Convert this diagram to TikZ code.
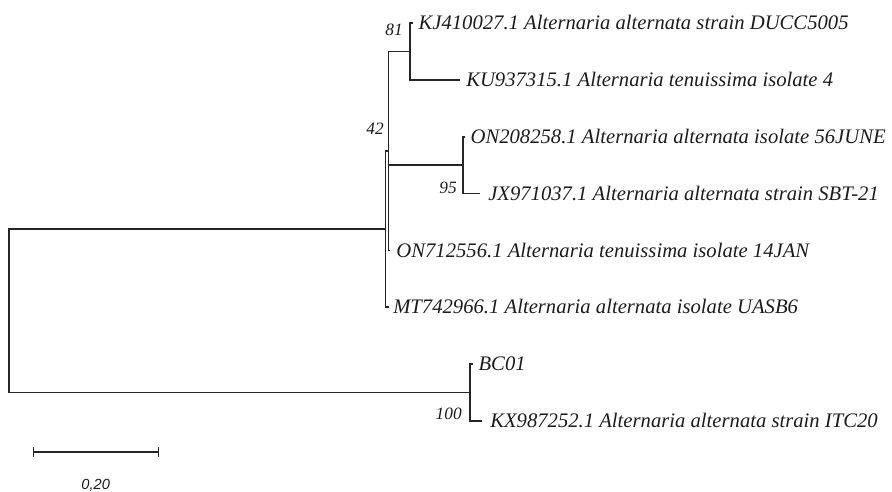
\documentclass[tikz,border=0pt]{standalone}
\usepackage{fontspec}
\setmainfont{Liberation Serif}
\newfontfamily\barfont{Liberation Sans}
\usepackage{tikz}
\usetikzlibrary{arrows.meta,positioning}
\definecolor{treeline}{HTML}{262626}
\definecolor{labeltext}{HTML}{1C1C1C}
\tikzset{
tree branch/.style={
  draw=treeline,
  line width=0.95pt,
  line cap=butt,
  line join=miter
},
taxon label/.style={
  font=\fontsize{15.5}{17}\selectfont\itshape,
  text=labeltext,
  inner sep=0pt,
  text height=10pt,
  text depth=0pt
},
boot label/.style={
  font=\fontsize{13}{15}\selectfont\itshape,
  text=labeltext,
  inner sep=0pt,
  anchor=east
},
scale bar/.style={
  draw=treeline,
  line width=0.95pt,
  {Bar[width=7pt]}-{Bar[width=7pt]}
},
scale label/.style={font=\barfont\fontsize{11}{12}\selectfont\itshape, text=labeltext, inner sep=0pt}
}

\begin{document}
\begin{tikzpicture}[x=0.75pt,y=-0.75pt]
\useasboundingbox (0,0) rectangle (892,492);
% internal nodes
\coordinate (root) at (9,310.7);
\coordinate (nA) at (385.5,229);
\coordinate (nB) at (388.5,151);
\coordinate (n81) at (410,51.5);
\coordinate (n95) at (463,165);
\coordinate (nBC) at (470,392.5);
% tips
\coordinate (tKJ) at (413,23);
\coordinate (tKU) at (460,80);
\coordinate (tON2) at (465,137);
\coordinate (tJX) at (480,193.5);
\coordinate (tON7) at (389.5,250.5);
\coordinate (tMT) at (389,307);
\coordinate (tBC) at (473,364);
\coordinate (tKX) at (482,421);
% branches
\draw[tree branch] (root) |- (nA);
\draw[tree branch] (root) |- (nBC);
\draw[tree branch] (nA) |- (nB);
\draw[tree branch] (nA) |- (tMT);
\draw[tree branch] (nB) |- (n81);
\draw[tree branch] (nB) |- (n95);
\draw[tree branch] (nB) |- (tON7);
\draw[tree branch] (n81) |- (tKJ);
\draw[tree branch] (n81) |- (tKU);
\draw[tree branch] (n95) |- (tON2);
\draw[tree branch] (n95) |- (tJX);
\draw[tree branch] (nBC) |- (tBC);
\draw[tree branch] (nBC) |- (tKX);
% taxa
\node[taxon label, right=4pt of tKJ] (KJ) {KJ410027.1 Alternaria alternata strain DUCC5005};
\node[taxon label, right=4.5pt of tKU] (KU) {KU937315.1 Alternaria tenuissima isolate 4};
\node[taxon label, right=4pt of tON2] (ON2) {ON208258.1 Alternaria alternata isolate 56JUNE};
\node[taxon label, right=6pt of tJX] (JX) {JX971037.1 Alternaria alternata strain SBT-21};
\node[taxon label, right=5pt of tON7] (ON7) {ON712556.1 Alternaria tenuissima isolate 14JAN};
\node[taxon label, right=3pt of tMT] (MT) {MT742966.1 Alternaria alternata isolate UASB6};
\node[taxon label, right=4pt of tBC] (BC) {BC01};
\node[taxon label, right=6pt of tKX] (KX) {KX987252.1 Alternaria alternata strain ITC20};
% bootstrap values
\node[boot label] (b81) at (403,30) {81};
\node[boot label] (b42) at (384,129) {42};
\node[boot label] (b95) at (457,188) {95};
\node[boot label] (b100) at (462,414) {100};
% scale
\coordinate (sbL) at (33,452);
\coordinate (sbR) at (159,452);
\draw[scale bar] (sbL) -- (sbR);
\node[scale label, below=20pt of sbL, xshift=47pt] (sbtext) {0,20};
\end{tikzpicture}
\end{document}
